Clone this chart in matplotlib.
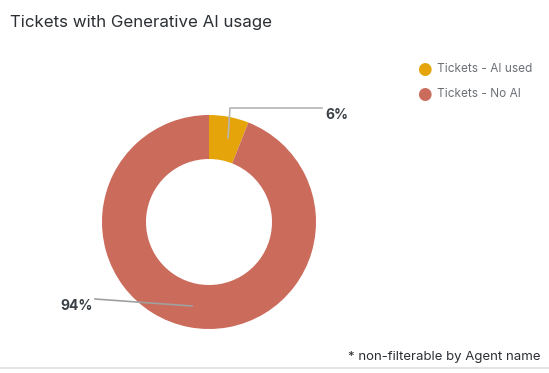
import matplotlib.pyplot as plt

plt.rcParams['font.family'] = ['Inter', 'DejaVu Sans']

labels = ['Tickets - AI used', 'Tickets - No AI']
values = [6, 94]
colors = ['#E5A50A', '#CB6B5C']

W, H = 549, 373
fig = plt.figure(figsize=(W / 100, H / 100), dpi=100)

# donut centre (209, 222) px, outer radius 107 px
cx, cy, r = 209, 222, 107
ax = fig.add_axes([(cx - r) / W, (H - cy - r) / H, 2 * r / W, 2 * r / H])
ax.pie(values, colors=colors, startangle=90, counterclock=False, radius=1,
       wedgeprops=dict(width=1 - 63 / 107, edgecolor='none'))
ax.set_xlim(-1, 1)
ax.set_ylim(-1, 1)
ax.set_aspect('equal')
ax.axis('off')


def d(px, py):
    return (px - cx) / r, (cy - py) / r


# leader lines and labels
lx, ly = zip(d(228, 138), d(230, 108), d(322, 108))
ax.plot(lx, ly, color='#B5B5B5', lw=1.2, clip_on=False)
ax.text(*d(325, 115), '6%', fontsize=10, fontweight='bold', color='#3A4046',
        ha='left', va='center')
lx, ly = zip(d(192, 306), d(95, 299))
ax.plot(lx, ly, color='#A0A0A0', lw=1.2, clip_on=False)
ax.text(*d(93, 306), '94%', fontsize=10, fontweight='bold', color='#3A4046',
        ha='right', va='center')

# legend
for i, (lab, c) in enumerate(zip(labels, colors)):
    y = 1 - (69 + 25 * i) / H
    fig.text(424 / W, y, '\u25CF', color=c, fontsize=12, family='DejaVu Sans',
             ha='center', va='center')
    fig.text(437 / W, y, lab, color='#6B6F75', fontsize=8.5, ha='left', va='center')

fig.text(10 / W, 1 - 23 / H, 'Tickets with Generative AI usage', fontsize=12.2,
         color='#2B2F33', ha='left', va='center')
fig.text(541 / W, 1 - 357 / H, '* non-filterable by Agent name', fontsize=9.5,
         color='#2B2F33', ha='right', va='center')
fig.add_artist(plt.Line2D([0, 1], [1 - 368 / H] * 2, color='#E3E3E3', lw=1.5))

fig.savefig('out.png', dpi=100)
